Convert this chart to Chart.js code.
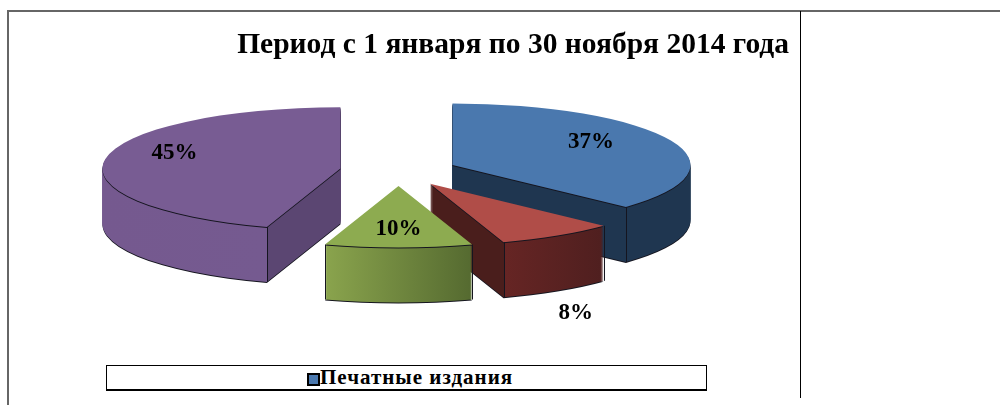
<!DOCTYPE html>
<html>
<head>
<meta charset="utf-8">
<script src="https://cdn.jsdelivr.net/npm/chart.js@4"></script>
<style>
    html, body { margin: 0; padding: 0; background: #fff; overflow: hidden; }
    #page { position: relative; width: 1000px; height: 405px; }
    #pie { position: absolute; left: 8px; top: 0; }
    .rule { position: absolute; }
    #rule-top { left: 7px; top: 10px; width: 993px; height: 2px; background: #666; }
    #rule-left { left: 7px; top: 10px; width: 2px; height: 395px; background: #666; }
    #rule-mid { left: 800px; top: 11px; width: 1px; height: 387px; background: #000; }
    #legend-box {
        position: absolute; left: 106px; top: 365px; width: 599px; height: 23px;
        border: 1px solid #000; border-bottom-width: 2px; background: #fff;
        font: bold 21px "Liberation Serif", serif; letter-spacing: 1px; color: #000;
    }
    #legend-swatch {
        position: absolute; left: 200px; top: 7px; width: 9px; height: 9px;
        border: 2px solid #000;
    }
    #legend-text { position: absolute; left: 213px; top: -1px; white-space: nowrap; }
</style>
</head>
<body>
<div id="page">
    <canvas id="pie" width="793" height="405"></canvas>
    <div class="rule" id="rule-top"></div>
    <div class="rule" id="rule-left"></div>
    <div class="rule" id="rule-mid"></div>
    <div id="legend-box"><span id="legend-swatch"></span><span id="legend-text"></span></div>
</div>
<script>
const chartTitle = 'Период с 1 января по 30 ноября 2014 года';
const categories = ['Печатные издания', '', '', ''];
const shares = [37, 8, 10, 45];

const topColours = ['#4a78ae', '#b04d48', '#8dab50', '#785c93'];
const wallColours = ['#1f3650', '#4a1e1c', '#5e7233', '#5b4672'];
const rimColours = [
    ['#1f3650', '#1f3650'],
    ['#662524', '#4f1f1f'],
    ['#8aa44d', '#556a30'],
    ['#75598f', '#755a90']
];
const labelRadius = [0.70, 2.17, 0.67, 0.75];
const labelTurn = [-10.4, 16, 0, 12.7];

const radius = 238;
const squash = 0.258;
const explode = 58.8;
const depth = 55;
const edge = '#15151f';

const pie3d = {
    id: 'pie3d',
    beforeDatasetsDraw(chart) {
        const ctx = chart.ctx;
        const arcs = chart.getDatasetMeta(0).data;
        const cy = arcs[0].y;

        const layer = (arc, fill, dy) => {
            const opts = arc.options;
            const mid = (arc.startAngle + arc.endAngle) / 2;
            ctx.save();
            ctx.translate(0, cy + dy);
            ctx.scale(1, squash);
            ctx.translate(Math.cos(mid) * explode, Math.sin(mid) * explode - cy);
            arc.options = { ...opts, backgroundColor: fill };
            arc.draw(ctx);
            arc.options = opts;
            ctx.restore();
        };

        // back to front: blue, purple, red, green
        for (const i of [0, 3, 1, 2]) {
            const arc = arcs[i];
            const mid = (arc.startAngle + arc.endAngle) / 2;
            const apexX = arc.x + Math.cos(mid) * explode;
            const apexY = arc.y + Math.sin(mid) * explode;

            // the part of the rim that faces the viewer
            const from = Math.max(arc.startAngle, 0);
            const to = Math.min(arc.endAngle, Math.PI);
            const toStop = (angle) => (Math.cos(angle) + 1) / 2;

            // filled inside layer()'s translate, so the gradient stays around arc.x
            const side = ctx.createLinearGradient(arc.x - radius, 0, arc.x + radius, 0);
            side.addColorStop(0, wallColours[i]);
            side.addColorStop(toStop(to), wallColours[i]);
            side.addColorStop(toStop(to), rimColours[i][0]);
            side.addColorStop(toStop(from), rimColours[i][1]);
            side.addColorStop(toStop(from), wallColours[i]);
            side.addColorStop(1, wallColours[i]);

            layer(arc, edge, depth + 1);
            for (let dy = depth; dy > 1; dy--) {
                layer(arc, side, dy);
            }
            layer(arc, edge, 1);
            layer(arc, topColours[i], 0);

            // vertical edges where rim meets wall
            ctx.save();
            ctx.strokeStyle = edge;
            ctx.lineWidth = 1;
            [from, to].forEach((angle) => {
                if (angle === 0 || angle === Math.PI) return;
                const x = Math.round(apexX + radius * Math.cos(angle)) + 0.5;
                const y = cy + (apexY + radius * Math.sin(angle) - cy) * squash;
                ctx.beginPath();
                ctx.moveTo(x, y);
                ctx.lineTo(x, y + depth);
                ctx.stroke();
            });
            ctx.restore();
        }

        ctx.save();
        ctx.font = 'bold 23px "Liberation Serif", serif';
        ctx.fillStyle = '#000';
        ctx.textAlign = 'center';
        ctx.textBaseline = 'middle';
        arcs.forEach((arc, i) => {
            const mid = (arc.startAngle + arc.endAngle) / 2;
            const turned = mid + labelTurn[i] * Math.PI / 180;
            const px = arc.x + Math.cos(mid) * explode + Math.cos(turned) * radius * labelRadius[i];
            const py = arc.y + Math.sin(mid) * explode + Math.sin(turned) * radius * labelRadius[i];
            ctx.fillText(shares[i] + '%', px, cy + (py - cy) * squash + 1.5);
        });
        ctx.restore();

        return false;
    }
};

document.getElementById('legend-text').textContent = categories[0];
document.getElementById('legend-swatch').style.background = topColours[0];

new Chart(document.getElementById('pie'), {
    type: 'pie',
    data: {
        labels: categories,
        datasets: [{
            data: shares,
            backgroundColor: topColours,
            borderWidth: 0,
            radius: radius
        }]
    },
    options: {
        responsive: false,
        animation: false,
        radius: radius,
        layout: { padding: { right: 12, bottom: 126 } },
        plugins: {
            legend: { display: false },
            tooltip: { enabled: false },
            title: {
                display: true,
                text: chartTitle,
                align: 'end',
                color: '#000',
                font: { family: '"Liberation Serif", serif', size: 29.5, weight: 'bold' },
                padding: { top: 27.5, bottom: 0 }
            }
        }
    },
    plugins: [pie3d]
});
</script>
</body>
</html>
